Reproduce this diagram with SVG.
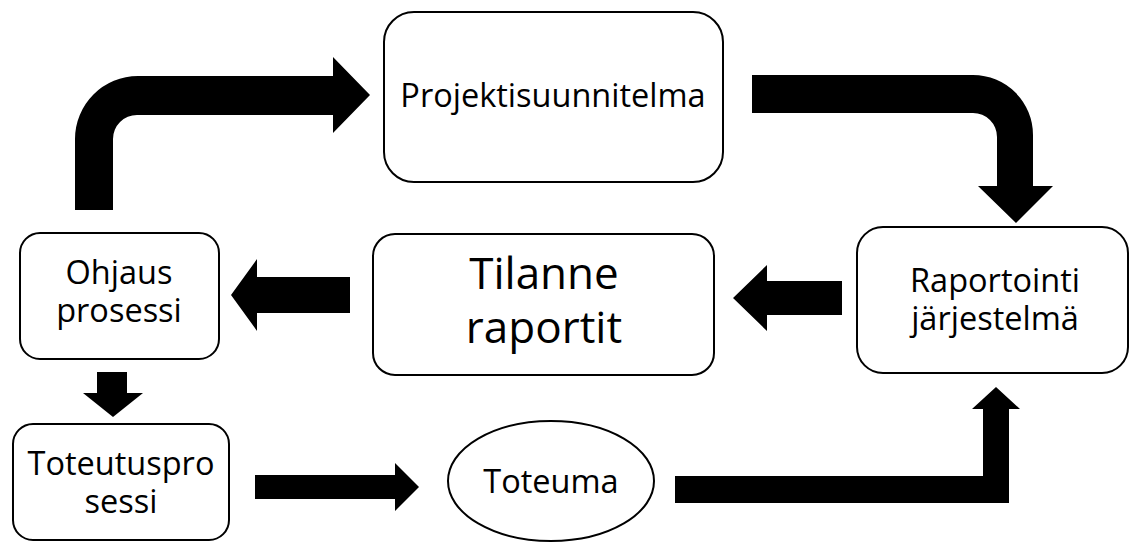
<svg xmlns="http://www.w3.org/2000/svg" width="1133" height="542" viewBox="0 0 1133 542">
  <style>
    .box { fill: #ffffff; stroke: #000000; stroke-width: 2; }
    .lbl { font-family: "Open Sans", "Noto Sans", "Liberation Sans", sans-serif; font-size: 32.5px; fill: #000000; text-anchor: middle; }
    .big { font-size: 44px; }
    .arrow { fill: #000000; stroke: none; }
  </style>
  <rect width="1133" height="542" fill="#ffffff"/>

  <!-- connectors: thick block arrows -->
  <g id="connectors">
    <!-- Ohjaus prosessi up and right into Projektisuunnitelma -->
    <path class="arrow" d="M75,210 L75,139 A63,63 0 0 1 138,76 L333,76 L333,57 L370,95 L333,133 L333,115 L137,115 A24,24 0 0 0 113,139 L113,210 Z"/>
    <!-- Projektisuunnitelma right and down into Raportointi järjestelmä -->
    <path class="arrow" d="M752,75 L973,75 A60,60 0 0 1 1033,135 L1033,186 L1053,186 L1016,223 L978,186 L997,186 L997,137 A24,24 0 0 0 973,113 L752,113 Z"/>
    <!-- Raportointi järjestelmä to Tilanne raportit -->
    <path class="arrow" d="M842,281 L767,281 L767,265 L733,298 L767,331 L767,315 L842,315 Z"/>
    <!-- Tilanne raportit to Ohjaus prosessi -->
    <path class="arrow" d="M350,277 L257,277 L257,259 L231,295 L257,331 L257,313 L350,313 Z"/>
    <!-- Ohjaus prosessi down to Toteutusprosessi -->
    <path class="arrow" d="M97,372 L127,372 L127,393 L143,393 L113,417 L83,393 L97,393 Z"/>
    <!-- Toteutusprosessi to Toteuma -->
    <path class="arrow" d="M255,475 L395,475 L395,463 L419,487 L395,511 L395,499 L255,499 Z"/>
    <!-- Toteuma right and up into Raportointi järjestelmä -->
    <path class="arrow" d="M675,476 L983,476 L983,409 L972,409 L996,387 L1020,409 L1009,409 L1009,503 L675,503 Z"/>
  </g>

  <g id="projektisuunnitelma">
    <rect class="box" x="384" y="12" width="339" height="170" rx="30" ry="30"/>
    <text class="lbl" x="553" y="107">Projektisuunnitelma</text>
  </g>

  <g id="raportointi">
    <rect class="box" x="857" y="227" width="271" height="146" rx="26" ry="26"/>
    <text class="lbl" x="995" y="292">Raportointi</text>
    <text class="lbl" x="995" y="330">järjestelmä</text>
  </g>

  <g id="tilanne">
    <rect class="box" x="373" y="234" width="341" height="141" rx="22" ry="22"/>
    <text class="lbl big" x="544" y="289">Tilanne</text>
    <text class="lbl big" x="544" y="343">raportit</text>
  </g>

  <g id="ohjaus">
    <rect class="box" x="20" y="233" width="199" height="126" rx="20" ry="20"/>
    <text class="lbl" x="119" y="284">Ohjaus</text>
    <text class="lbl" x="119" y="322">prosessi</text>
  </g>

  <g id="toteutus">
    <rect class="box" x="13" y="424" width="216" height="116" rx="20" ry="20"/>
    <text class="lbl" x="121" y="475">Toteutuspro</text>
    <text class="lbl" x="121" y="513">sessi</text>
  </g>

  <g id="toteuma">
    <ellipse class="box" cx="551" cy="481" rx="103" ry="60"/>
    <text class="lbl" x="551" y="493">Toteuma</text>
  </g>
</svg>
